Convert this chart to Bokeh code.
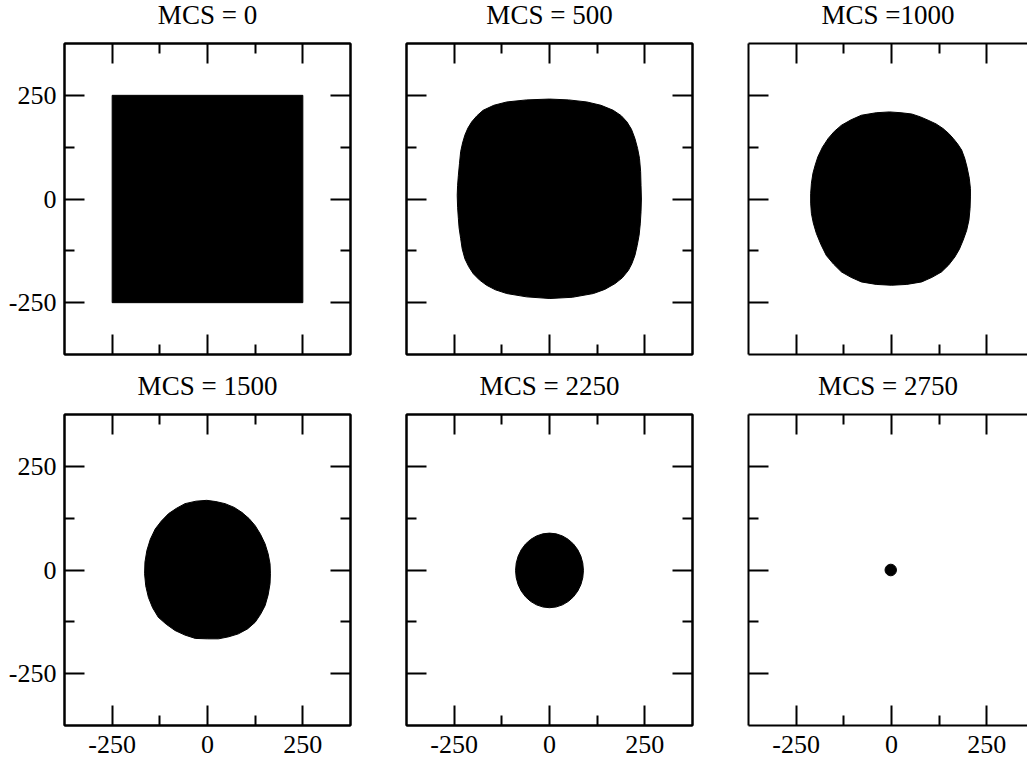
from bokeh.plotting import figure
from bokeh.layouts import column, row
from bokeh.models import Range1d, FixedTicker, LinearAxis, CustomJSTickFormatter
from bokeh.embed import file_html
from bokeh.resources import INLINE

# ---------------- data ----------------
titles = ["MCS = 0", "MCS = 500", "MCS =1000", "MCS = 1500", "MCS = 2250", "MCS = 2750"]
major_ticks = [-250, 0, 250]
minor_ticks = [-125, 125]
tick_labels = ["-250", "0", "250"]
axis_min, axis_max = -375, 375

# MCS = 0 : square domain
mcs0_x = [-250, 250, 250, -250]
mcs0_y = [-250, -250, 250, 250]

# MCS = 500 : rounded square (boundary)
mcs500_x = [0, 50, 98, 135, 167, 188, 203, 215, 224, 231, 236, 239, 240, 241,
            240, 238, 235, 230, 224, 216, 207, 191, 172, 145, 115, 60, 1,
            -60, -112, -142, -165, -184, -200, -212, -222, -229, -233, -237, -239, -241, -242,
            -241, -239, -236, -233, -228, -222, -214, -204, -190, -174, -146, -112, -60]
mcs500_y = [241, 239, 234, 226, 214, 201, 186, 168, 146, 122, 98, 66, 33, 0,
            -31, -60, -87, -112, -136, -156, -172, -190, -204, -218, -228, -237, -240,
            -236, -228, -219, -208, -195, -180, -163, -144, -120, -95, -70, -47, -20, 9,
            33, 57, 86, 114, 135, 154, 171, 186, 201, 214, 226, 234, 239]

# MCS = 1000
mcs1000_x = [-5, 25, 53, 76, 96, 117, 135, 150, 162, 174, 184, 192, 198, 204, 207, 207,
             206, 203, 197, 188, 178, 166, 150, 131, 106, 79, 40, 0,
             -40, -79, -106, -131, -152, -171, -185, -197, -205, -210, -212, -212,
             -210, -206, -200, -193, -181, -166, -150, -131, -106, -79, -40]
mcs1000_y = [210, 208, 205, 198, 190, 181, 170, 158, 146, 132, 118, 98, 77, 50, 25, 5,
             -23, -51, -76, -99, -121, -140, -159, -176, -189, -200, -206, -208,
             -206, -200, -189, -176, -157, -136, -110, -83, -58, -35, -10, 13,
             38, 62, 82, 102, 125, 146, 163, 178, 191, 202, 208]

# MCS = 1500
mcs1500_x = [-2, 22, 46, 70, 90, 109, 125, 139, 151, 159, 164, 165, 164, 159, 151, 139,
             125, 105, 81, 56, 29, 0, -32, -59, -85, -108, -129, -144, -155, -162,
             -165, -164, -159, -150, -137, -121, -102, -81, -59, -30]
mcs1500_y = [168, 165, 160, 151, 139, 124, 107, 86, 63, 39, 15, -9, -33, -60, -86, -107,
             -126, -142, -154, -161, -166, -166, -165, -157, -146, -131, -114, -91, -66, -38,
             -9, 19, 47, 74, 99, 118, 136, 149, 160, 166]

# MCS = 2250 : near-circular droplet (centre, width, height)
mcs2250_cx, mcs2250_cy, mcs2250_w, mcs2250_h = [0], [-1], [178], [180]

# MCS = 2750 : tiny droplet
mcs2750_cx, mcs2750_cy, mcs2750_w, mcs2750_h = [-2], [0], [30], [28]

FONT = "Liberation Serif"
FRAME_W, FRAME_H = 286, 311
X_PER_PX = (axis_max - axis_min) / FRAME_W
TOP_B = 62            # room for the title panel
SHIFT = TOP_B - 43    # figure pulled up so the frame starts 43 px below the row top
BOT_B2 = 42           # room for the bottom tick labels of the lower row
BOT_SHIFT = BOT_B2 - 34


def style_axis(ax, show_labels, standoff=8):
    ax.ticker = FixedTicker(ticks=major_ticks, minor_ticks=minor_ticks)
    ax.major_tick_in = 20
    ax.major_tick_out = 0
    ax.minor_tick_in = 10
    ax.minor_tick_out = 0
    ax.major_tick_line_width = 2
    ax.minor_tick_line_width = 2
    ax.major_tick_line_color = "black"
    ax.minor_tick_line_color = "black"
    ax.axis_line_width = 2
    ax.axis_line_color = "black"
    if show_labels:
        ax.major_label_overrides = {t: s for t, s in zip(major_ticks, tick_labels)}
        ax.major_label_text_font = FONT
        ax.major_label_text_font_size = "26px"
        ax.major_label_text_color = "black"
        ax.major_label_standoff = standoff
    else:
        ax.formatter = CustomJSTickFormatter(code="return ''")
        ax.major_label_text_font_size = "2px"
        ax.major_label_standoff = 0


def make_panel(title, col, rowi):
    left_b = 64 if col == 0 else 28
    right_b = 28 if col < 2 else 0
    bottom_b = 17 if rowi == 0 else BOT_B2
    bottom_m = 0 if rowi == 0 else -BOT_SHIFT
    fw = FRAME_W if col < 2 else 1027 - 748
    x_end = axis_min + fw * X_PER_PX
    p = figure(width=left_b + fw + right_b, height=TOP_B + FRAME_H + bottom_b,
               x_range=Range1d(axis_min, x_end), y_range=Range1d(axis_min, axis_max),
               x_axis_location=None, y_axis_location=None,
               output_backend="svg", toolbar_location=None,
               min_border_left=left_b, min_border_right=right_b,
               min_border_top=TOP_B, min_border_bottom=bottom_b,
               title=title, margin=(-SHIFT, 0, bottom_m, 0))
    p.grid.grid_line_color = None
    p.background_fill_color = "white"
    p.border_fill_color = None
    if col < 2:
        p.outline_line_color = "black"
        p.outline_line_width = 2
    else:
        p.outline_line_color = None
    p.title.align = "center"
    p.title.text_font = FONT
    p.title.text_font_size = "27px"
    p.title.text_font_style = "normal"
    p.title.text_color = "black"
    p.title.standoff = 27

    ax_l = LinearAxis(); style_axis(ax_l, col == 0, 8); p.add_layout(ax_l, "left")
    ax_b = LinearAxis(); style_axis(ax_b, rowi == 1, 10); p.add_layout(ax_b, "below")
    ax_t = LinearAxis(); style_axis(ax_t, False); p.add_layout(ax_t, "above")
    if col < 2:
        ax_r = LinearAxis(); style_axis(ax_r, False); p.add_layout(ax_r, "right")
    return p


panels = [make_panel(t, i % 3, i // 3) for i, t in enumerate(titles)]

shape_kw = dict(fill_color="black", line_color="black", line_width=1)
panels[0].patch(mcs0_x, mcs0_y, **shape_kw)
panels[1].patch(mcs500_x, mcs500_y, **shape_kw)
panels[2].patch(mcs1000_x, mcs1000_y, **shape_kw)
panels[3].patch(mcs1500_x, mcs1500_y, **shape_kw)
panels[4].ellipse(x=mcs2250_cx, y=mcs2250_cy, width=mcs2250_w, height=mcs2250_h, **shape_kw)
panels[5].ellipse(x=mcs2750_cx, y=mcs2750_cy, width=mcs2750_w, height=mcs2750_h, **shape_kw)

layout = column(row(*panels[:3]), row(*panels[3:]))

open("out.html", "w").write(file_html(layout, INLINE, title="MCS snapshots"))
